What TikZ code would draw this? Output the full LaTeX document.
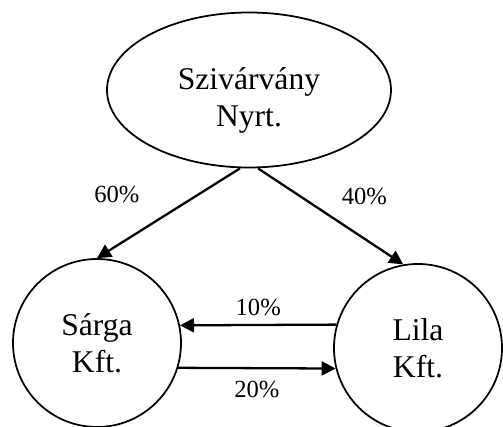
\documentclass[tikz,border=0pt]{standalone}
\usepackage{fontspec}
\setmainfont{Liberation Serif}
\usetikzlibrary{positioning,shapes.geometric,arrows.meta}
\tikzset{
  ceg/.style={draw, circle, line width=1pt, minimum size=3.36cm, inner sep=0pt, align=center, font=\fontsize{18}{21}\selectfont},
  nyil/.style={-{Triangle[length=0.28cm,width=0.28cm]}, line width=1.3pt},
  arany/.style={inner sep=0pt, font=\fontsize{14}{16}\selectfont}
}
\begin{document}
\begin{tikzpicture}
        \useasboundingbox (0,0) rectangle (10.06,8.54);
        \node[ceg, ellipse, minimum width=5.68cm, minimum height=3.1cm] (szivarvany) at (4.98,6.74) {{}\\[3pt]Szivárvány\\Nyrt.};
        \node[ceg] (sarga) at (1.94,1.68) {Sárga\\Kft.};
        \node[ceg] (lila) at (8.36,1.58) {Lila\\Kft.};

        \draw [nyil] ([xshift=-0.18cm]szivarvany.south) -- node[arany,midway,above left={0.19cm and 0.56cm}] (p60) {60\%} (sarga.north);
        \draw [nyil] ([xshift=0.18cm]szivarvany.south) -- node[arany,midway,above right={0.2cm and 0.2cm}] (p40) {40\%} (lila.100);

        \draw [nyil] (lila.164) -- node[arany,midway,above=0.17cm] (p10) {10\%} (sarga.12);
        \draw [nyil] (sarga.-17) -- node[arany,midway,below=0.23cm] (p20) {20\%} (lila.194);
    \end{tikzpicture}
\end{document}
